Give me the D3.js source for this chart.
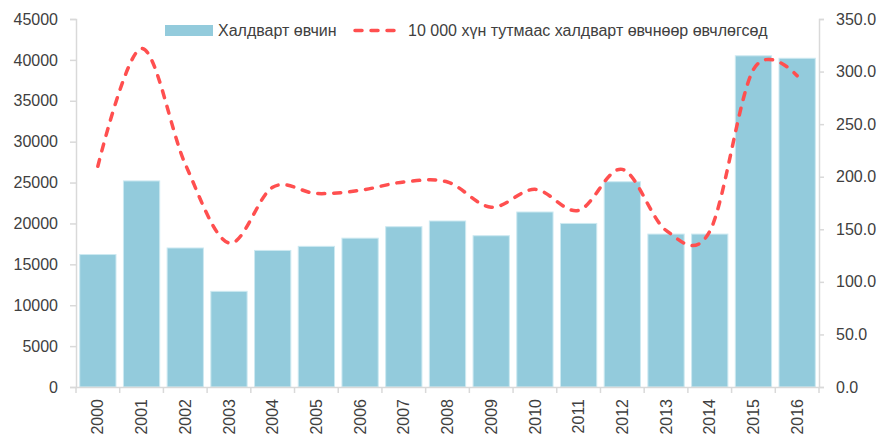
<!DOCTYPE html>
<html>
<head>
<meta charset="utf-8">
<script src="https://cdn.jsdelivr.net/npm/d3@7"></script>
<style>
  body { margin: 0; background: #fff; }
  svg { display: block; font-family: "Liberation Sans", Arial, sans-serif; }
</style>
</head>
<body>
<svg id="chart" width="883" height="437"></svg>
<script>
// chart data
const years = ['2000', '2001', '2002', '2003', '2004', '2005', '2006', '2007', '2008',
  '2009', '2010', '2011', '2012', '2013', '2014', '2015', '2016'];
const cases = [16200, 25200, 17000, 11700, 16700, 17200, 18200, 19600, 20300,
  18500, 21400, 20000, 25100, 18700, 18700, 40500, 40200];
const rate = [210, 322, 212, 137, 190, 184, 187, 195, 195,
  171, 188, 168, 207, 149, 148, 302, 296];
const leftTicks = [0, 5000, 10000, 15000, 20000, 25000, 30000, 35000, 40000, 45000];
const rightTicks = [0, 50, 100, 150, 200, 250, 300, 350];
const barName = 'Халдварт өвчин';
const lineName = '10 000 хүн тутмаас халдварт өвчнөөр өвчлөгсөд';

const W = 883, H = 437;
const margin = { top: 19, right: 64, bottom: 50, left: 76 };
const axisColor = '#d9d9d9';
const textColor = '#404040';
const barColor = '#93cbdc';
const lineColor = '#ff4f4f';

const svg = d3.select('#chart');

const x = d3.scaleBand()
  .domain(years)
  .range([margin.left, W - margin.right])
  .paddingInner(0.17)
  .paddingOuter(0.085);

const xb = d3.scaleBand()
  .domain(years)
  .range([margin.left, W - margin.right]);

const yL = d3.scaleLinear().domain([0, 45000]).range([H - margin.bottom, margin.top]);
const yR = d3.scaleLinear().domain([0, 350]).range([H - margin.bottom, margin.top]);

// bars
svg.append('g')
  .selectAll('rect')
  .data(cases)
  .join('rect')
  .attr('x', (d, i) => x(years[i]))
  .attr('y', d => yL(d))
  .attr('width', x.bandwidth())
  .attr('height', d => yL(0) - yL(d))
  .attr('fill', barColor)
  .attr('stroke', '#cde9f1')
  .attr('stroke-width', 1);

// left axis
const gl = svg.append('g')
  .attr('transform', `translate(${margin.left},0)`)
  .call(d3.axisLeft(yL).tickValues(leftTicks).tickFormat(d3.format('d')).tickSize(6).tickPadding(12));

// right axis
const gr = svg.append('g')
  .attr('transform', `translate(${W - margin.right},0)`)
  .call(d3.axisRight(yR).tickValues(rightTicks).tickFormat(d3.format('.1f')).tickSize(5).tickPadding(12));

// x axis
const gx = svg.append('g')
  .attr('transform', `translate(0,${H - margin.bottom})`)
  .call(d3.axisBottom(xb).tickSize(0).tickFormat(''));

gx.selectAll('.boundary')
  .data(years.concat(['end']))
  .join('line')
  .attr('x1', (d, i) => margin.left + i * xb.step())
  .attr('x2', (d, i) => margin.left + i * xb.step())
  .attr('y1', 0)
  .attr('y2', 6)
  .attr('stroke', axisColor)
  .attr('stroke-width', 1.5);

gx.selectAll('.lbl')
  .data(years)
  .join('text')
  .attr('transform', d => `translate(${xb(d) + xb.bandwidth() / 2},12) rotate(-90)`)
  .attr('text-anchor', 'end')
  .attr('dy', '0.35em')
  .attr('fill', textColor)
  .style('font-size', '16px')
  .text(d => d);

[gl, gr, gx].forEach(g => {
  g.select('.domain').attr('stroke', axisColor).attr('stroke-width', 1.5);
  g.selectAll('.tick line').attr('stroke', axisColor).attr('stroke-width', 1.5);
  g.selectAll('.tick text').attr('fill', textColor).style('font-size', '16px');
});

// smoothed dashed line
const line = d3.line()
  .x((d, i) => xb(years[i]) + xb.bandwidth() / 2)
  .y(d => yR(d))
  .curve(d3.curveCardinal.tension(0));

svg.append('path')
  .datum(rate)
  .attr('d', line)
  .attr('fill', 'none')
  .attr('stroke', lineColor)
  .attr('stroke-width', 3.5)
  .attr('stroke-linecap', 'round')
  .attr('stroke-dasharray', '7,9');

// legend
const lg = svg.append('g');
lg.append('rect')
  .attr('x', 165).attr('y', 25)
  .attr('width', 48).attr('height', 11)
  .attr('fill', barColor);
lg.append('text')
  .attr('x', 218).attr('y', 36)
  .attr('fill', textColor)
  .style('font-size', '16px')
  .text(barName);
lg.append('line')
  .attr('x1', 355).attr('x2', 402)
  .attr('y1', 30.5).attr('y2', 30.5)
  .attr('stroke', lineColor)
  .attr('stroke-width', 3.5)
  .attr('stroke-linecap', 'round')
  .attr('stroke-dasharray', '7,9');
lg.append('text')
  .attr('x', 408).attr('y', 36)
  .attr('fill', textColor)
  .style('font-size', '16px')
  .text(lineName);
</script>
</body>
</html>
